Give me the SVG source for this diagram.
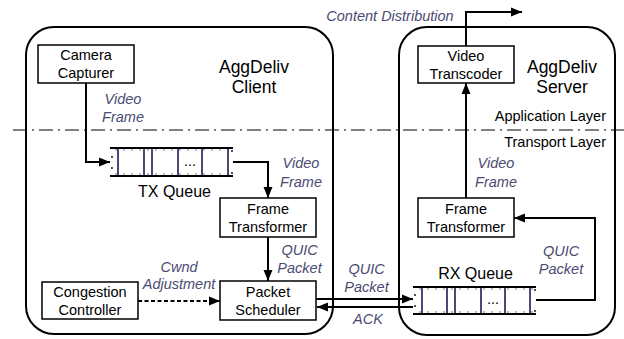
<svg xmlns="http://www.w3.org/2000/svg" width="624" height="339" viewBox="0 0 624 339">
  <style>
    .host { fill: none; stroke: #000; stroke-width: 2; }
    .box { fill: #fff; stroke: #000; stroke-width: 1.5; }
    .t { font-family: "Liberation Sans", Arial, sans-serif; font-size: 14.5px; fill: #000; text-anchor: middle; }
    .big { font-size: 17.5px; }
    .q { font-size: 16px; }
    .lbl { font-family: "Liberation Sans", Arial, sans-serif; font-size: 14.5px; font-style: italic; fill: #4b4b72; text-anchor: middle; }
    .layer { font-family: "Liberation Sans", Arial, sans-serif; font-size: 14.5px; fill: #000; text-anchor: end; }
    .wire { fill: none; stroke: #000; stroke-width: 2; }
    .dash { stroke-dasharray: 4 2.5; }
    .rail { stroke: #000; stroke-width: 2; }
    .cell { stroke: #4a4a78; stroke-width: 2; }
    .dot { fill: #000; }
    .divider { fill: none; stroke: #000; stroke-width: 1.2; stroke-dasharray: 14 5 2 5; }
  </style>
  <defs>
    <marker id="arrow" markerUnits="userSpaceOnUse" markerWidth="12" markerHeight="10" refX="11" refY="5" orient="auto">
      <path d="M0,0.5 L11,5 L0,9.5 z" fill="#000"/>
    </marker>
    <!-- small sprocket ticks along the queue rails -->
    <pattern id="film" width="8" height="2" patternUnits="userSpaceOnUse">
      <line x1="4" y1="0" x2="4" y2="2" stroke="#555" stroke-width="0.8"/>
    </pattern>
  </defs>

  <!-- host containers -->
  <rect id="client-host" class="host" x="26" y="27" width="307" height="307" rx="28" ry="28"/>
  <rect id="server-host" class="host" x="399" y="27" width="216" height="308" rx="28" ry="28"/>

  <!-- layer divider -->
  <line class="divider" x1="13" y1="130" x2="624" y2="130"/>
  <text class="layer" x="606" y="121">Application Layer</text>
  <text class="layer" x="606" y="147">Transport Layer</text>

  <!-- host titles -->
  <text class="t big" x="254" y="73">AggDeliv</text>
  <text class="t big" x="254" y="93">Client</text>
  <text class="t big" x="562" y="73">AggDeliv</text>
  <text class="t big" x="562" y="93">Server</text>

  <!-- connectors -->
  <g id="connectors">
    <polyline class="wire" points="86,83 86,162 110,162" marker-end="url(#arrow)"/>
    <polyline class="wire" points="233,162 268,162 268,198" marker-end="url(#arrow)"/>
    <line class="wire" x1="268" y1="237" x2="268" y2="281" marker-end="url(#arrow)"/>
    <line class="wire dash" x1="138" y1="301" x2="220" y2="301" marker-end="url(#arrow)"/>
    <line class="wire" x1="316" y1="299" x2="413" y2="299" marker-end="url(#arrow)"/>
    <line class="wire" x1="413" y1="307" x2="317" y2="307" marker-end="url(#arrow)"/>
    <polyline class="wire" points="536,300 595,300 595,218 514,218" marker-end="url(#arrow)"/>
    <line class="wire" x1="466" y1="198" x2="466" y2="83" marker-end="url(#arrow)"/>
    <polyline class="wire" points="466,46 466,12 522,12" marker-end="url(#arrow)"/>

    <text class="lbl" x="123" y="104">Video</text>
    <text class="lbl" x="123" y="122">Frame</text>
    <text class="lbl" x="301" y="168">Video</text>
    <text class="lbl" x="301" y="187">Frame</text>
    <text class="lbl" x="299.5" y="255">QUIC</text>
    <text class="lbl" x="299.5" y="273">Packet</text>
    <text class="lbl" x="179" y="272">Cwnd</text>
    <text class="lbl" x="179" y="289">Adjustment</text>
    <text class="lbl" x="366.5" y="274">QUIC</text>
    <text class="lbl" x="366.5" y="292">Packet</text>
    <text class="lbl" x="368" y="324">ACK</text>
    <text class="lbl" x="561" y="256">QUIC</text>
    <text class="lbl" x="561" y="274">Packet</text>
    <text class="lbl" x="496" y="168">Video</text>
    <text class="lbl" x="496" y="187">Frame</text>
    <text class="lbl" x="390" y="21">Content Distribution</text>
  </g>

  <!-- client nodes -->
  <g id="camera-capturer">
    <rect class="box" x="38" y="45" width="96" height="38"/>
    <text class="t" x="86" y="60">Camera</text>
    <text class="t" x="86" y="78">Capturer</text>
  </g>

  <g id="tx-queue">
    <rect x="110" y="149" width="123" height="2" fill="url(#film)"/>
    <rect x="110" y="173" width="123" height="2" fill="url(#film)"/>
    <line class="rail" x1="110" y1="148" x2="233" y2="148"/>
    <line class="rail" x1="110" y1="176" x2="233" y2="176"/>
    <line class="cell" x1="118" y1="149" x2="118" y2="175"/>
    <line class="cell" x1="144" y1="149" x2="144" y2="175"/>
    <line class="cell" x1="152" y1="149" x2="152" y2="175"/>
    <line class="cell" x1="178" y1="149" x2="178" y2="175"/>
    <line class="cell" x1="202" y1="149" x2="202" y2="175"/>
    <line class="cell" x1="228" y1="149" x2="228" y2="175"/>
    <text class="t" x="190" y="166">...</text>
    <circle class="dot" cx="112" cy="157" r="0.9"/>
    <circle class="dot" cx="112" cy="168" r="0.9"/>
    <circle class="dot" cx="232" cy="151" r="0.9"/>
    <circle class="dot" cx="232" cy="173" r="0.9"/>
    <text class="t q" x="174.5" y="197">TX Queue</text>
  </g>

  <g id="client-frame-transformer">
    <rect class="box" x="220" y="198" width="96" height="39"/>
    <text class="t" x="268" y="213.5">Frame</text>
    <text class="t" x="268" y="231.5">Transformer</text>
  </g>

  <g id="congestion-controller">
    <rect class="box" x="42" y="282" width="96" height="37"/>
    <text class="t" x="90" y="296.5">Congestion</text>
    <text class="t" x="90" y="314.5">Controller</text>
  </g>

  <g id="packet-scheduler">
    <rect class="box" x="220" y="281" width="96" height="39"/>
    <text class="t" x="268" y="297">Packet</text>
    <text class="t" x="268" y="315">Scheduler</text>
  </g>

  <!-- server nodes -->
  <g id="video-transcoder">
    <rect class="box" x="418" y="46" width="96" height="37"/>
    <text class="t" x="466" y="60.5">Video</text>
    <text class="t" x="466" y="78.5">Transcoder</text>
  </g>

  <g id="server-frame-transformer">
    <rect class="box" x="418" y="198" width="96" height="39"/>
    <text class="t" x="466" y="213.5">Frame</text>
    <text class="t" x="466" y="231.5">Transformer</text>
  </g>

  <g id="rx-queue">
    <rect x="413" y="288" width="123" height="2" fill="url(#film)"/>
    <rect x="413" y="311" width="123" height="2" fill="url(#film)"/>
    <line class="rail" x1="413" y1="287" x2="536" y2="287"/>
    <line class="rail" x1="413" y1="314" x2="536" y2="314"/>
    <line class="cell" x1="422" y1="288" x2="422" y2="313"/>
    <line class="cell" x1="447" y1="288" x2="447" y2="313"/>
    <line class="cell" x1="455" y1="288" x2="455" y2="313"/>
    <line class="cell" x1="481" y1="288" x2="481" y2="313"/>
    <line class="cell" x1="505" y1="288" x2="505" y2="313"/>
    <line class="cell" x1="530" y1="288" x2="530" y2="313"/>
    <text class="t" x="493" y="304">...</text>
    <circle class="dot" cx="415" cy="295" r="0.9"/>
    <circle class="dot" cx="415" cy="306" r="0.9"/>
    <circle class="dot" cx="535" cy="290" r="0.9"/>
    <circle class="dot" cx="535" cy="311" r="0.9"/>
    <text class="t q" x="475.5" y="279">RX Queue</text>
  </g>
</svg>
